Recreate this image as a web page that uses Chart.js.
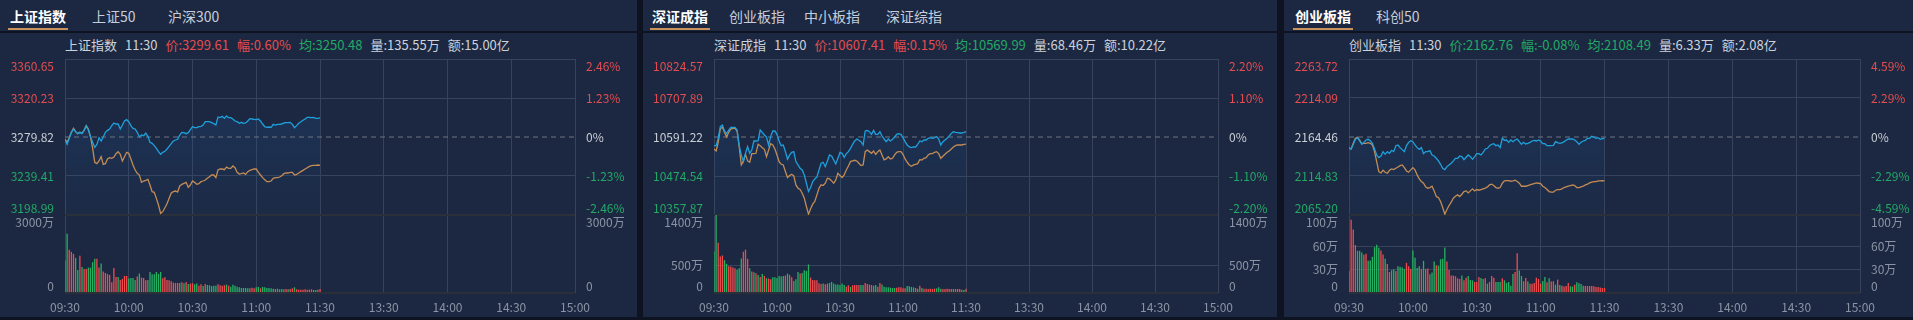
<!DOCTYPE html>
<html>
<head>
<meta charset="utf-8">
<script src="https://cdn.jsdelivr.net/npm/chart.js@4.4.1/dist/chart.umd.min.js"></script>
<style>
  html, body { margin: 0; padding: 0; width: 1913px; height: 320px; overflow: hidden; background: #0d1320; font-family: 'Noto Sans CJK SC', sans-serif; }
  .panel { position: absolute; top: 0; height: 317px; background: #1c2841; }
  .tab { position: absolute; top: 6px; font-size: 14px; line-height: 20px; color: #c7cedb; white-space: nowrap; }
  .tab.on { color: #fff; font-weight: bold; }
  .tab.on:after { content: ''; position: absolute; left: -2px; right: -2px; top: 22px; height: 2px; background: #c8925a; }
  .sep { position: absolute; left: 0; right: 0; top: 31px; height: 2px; background: #0d1320; }
  .info { position: absolute; top: 37px; font-size: 13px; line-height: 16px; color: #cdd2da; white-space: nowrap; }
  .info span { margin-right: 8px; }
  .up { color: #e34d4f; }
  .down { color: #22a867; }
  canvas { position: absolute; left: 0; top: 34px; }
</style>
</head>
<body>

<div class="panel" id="p1" style="left:0;width:637px">
  <div class="tab on" style="left:10px">上证指数</div>
  <div class="tab" style="left:92px">上证50</div>
  <div class="tab" style="left:168px">沪深300</div>
  <div class="sep"></div>
  <div class="info" style="left:65px"><span>上证指数</span><span>11:30</span><span class="up">价:3299.61</span><span class="up">幅:0.60%</span><span class="down">均:3250.48</span><span>量:135.55万</span><span>额:15.00亿</span></div>
  <canvas width="637" height="283"></canvas>
</div>

<div class="panel" id="p2" style="left:643px;width:634px">
  <div class="tab on" style="left:9px">深证成指</div>
  <div class="tab" style="left:86px">创业板指</div>
  <div class="tab" style="left:161px">中小板指</div>
  <div class="tab" style="left:243px">深证综指</div>
  <div class="sep"></div>
  <div class="info" style="left:71px"><span>深证成指</span><span>11:30</span><span class="up">价:10607.41</span><span class="up">幅:0.15%</span><span class="down">均:10569.99</span><span>量:68.46万</span><span>额:10.22亿</span></div>
  <canvas width="634" height="283"></canvas>
</div>

<div class="panel" id="p3" style="left:1284px;width:629px">
  <div class="tab on" style="left:11px">创业板指</div>
  <div class="tab" style="left:92px">科创50</div>
  <div class="sep"></div>
  <div class="info" style="left:65px"><span>创业板指</span><span>11:30</span><span class="down">价:2162.76</span><span class="down">幅:-0.08%</span><span class="down">均:2108.49</span><span>量:6.33万</span><span>额:2.08亿</span></div>
  <canvas width="629" height="283"></canvas>
</div>

<script>
// time axis
const timeLabels = ['09:30', '10:00', '10:30', '11:00', '11:30', '13:30', '14:00', '14:30', '15:00'];

// 上证指数
const shPriceTicks = [3198.99, 3239.41, 3279.82, 3320.23, 3360.65];
const shPctLabels = ['-2.46%', '-1.23%', '0%', '1.23%', '2.46%'];
const shVolTicks = [0, 3000];
const shVolLabels = ['0', '3000万'];
const shPrice = [
  3276.71, 3272.22, 3278.44, 3284.66, 3288.11, 3285.35, 3283.28, 3284.66, 3283.28, 3287.08,
  3291.22, 3287.08, 3280.17, 3274.29, 3269.11, 3272.22, 3279.13, 3275.67, 3279.82, 3284.66,
  3286.73, 3288.11, 3291.57, 3294.33, 3293.29, 3293.29, 3288.11, 3292.26, 3296.40, 3297.79,
  3295.71, 3291.57, 3288.80, 3288.11, 3284.66, 3279.82, 3281.89, 3281.20, 3283.97, 3280.51,
  3274.29, 3273.26, 3270.84, 3268.07, 3264.62, 3261.85, 3263.93, 3264.96, 3267.38, 3270.15,
  3272.91, 3275.67, 3276.71, 3277.40, 3281.89, 3284.66, 3284.31, 3283.28, 3284.31, 3287.42,
  3290.53, 3289.49, 3289.49, 3290.53, 3290.88, 3292.26, 3295.71, 3295.71, 3295.71, 3294.68,
  3293.64, 3292.26, 3300.55, 3299.86, 3301.24, 3299.17, 3301.59, 3299.86, 3299.86, 3298.48,
  3296.40, 3295.71, 3293.99, 3295.02, 3293.99, 3294.33, 3296.40, 3298.82, 3298.48, 3298.13,
  3297.79, 3298.48, 3296.40, 3293.29, 3290.53, 3289.84, 3290.19, 3289.84, 3292.95, 3292.26,
  3292.95, 3292.95, 3293.29, 3294.33, 3294.68, 3294.68, 3295.02, 3292.95, 3289.49, 3291.57,
  3293.99, 3295.71, 3297.10, 3298.48, 3300.20, 3300.20, 3299.86, 3300.20, 3299.17, 3299.17,
  3299.61
];
const shAvg = [
  3277.75, 3274.29, 3279.13, 3284.66, 3288.80, 3285.35, 3283.28, 3284.66, 3283.97, 3286.73,
  3291.57, 3288.11, 3280.17, 3268.07, 3253.56, 3252.18, 3254.94, 3259.44, 3251.49, 3252.18,
  3257.02, 3258.40, 3257.71, 3259.09, 3262.54, 3264.62, 3261.85, 3254.94, 3259.44, 3263.93,
  3262.89, 3257.02, 3250.80, 3245.62, 3242.16, 3240.43, 3232.83, 3234.21, 3234.90, 3235.94,
  3230.07, 3223.16, 3222.47, 3216.25, 3209.34, 3200.70, 3202.43, 3206.57, 3210.72, 3216.25,
  3221.78, 3223.16, 3223.85, 3222.81, 3229.03, 3230.76, 3231.80, 3232.83, 3227.65, 3230.07,
  3234.21, 3232.83, 3230.76, 3231.45, 3233.52, 3234.21, 3235.25, 3236.98, 3238.71, 3240.43,
  3240.43, 3237.67, 3245.62, 3246.65, 3246.65, 3245.96, 3248.72, 3247.34, 3247.34, 3249.76,
  3248.03, 3243.20, 3241.47, 3241.81, 3242.51, 3241.12, 3243.89, 3245.27, 3245.96, 3246.65,
  3246.65, 3243.20, 3240.43, 3237.67, 3235.60, 3233.52, 3233.52, 3234.21, 3236.98, 3237.67,
  3237.67, 3238.36, 3239.74, 3241.81, 3242.51, 3242.51, 3243.20, 3243.20, 3240.43, 3241.12,
  3242.51, 3243.89, 3245.27, 3246.65, 3248.03, 3249.42, 3250.11, 3250.45, 3250.45, 3250.80,
  3250.48
];
const shVol = [
  1249, 2279, 1661, 1584, 1506, 1352, 888, 1429, 1004, 927,
  927, 976, 976, 1185, 1313, 1313, 976, 1133, 824, 773,
  734, 695, 412, 966, 618, 618, 502, 541, 657, 657,
  554, 579, 579, 502, 631, 747, 592, 579, 489, 502,
  811, 721, 721, 811, 734, 811, 567, 605, 502, 489,
  451, 399, 386, 386, 386, 412, 373, 425, 348, 361,
  373, 335, 361, 283, 335, 270, 348, 309, 296, 270,
  283, 283, 335, 296, 283, 296, 322, 283, 245, 322,
  283, 245, 219, 193, 193, 193, 180, 180, 206, 180,
  219, 232, 180, 232, 219, 193, 193, 180, 167, 155,
  167, 142, 155, 142, 155, 142, 155, 180, 219, 142,
  129, 129, 129, 142, 129, 129, 142, 116, 116, 129, 155
];
const shVolSide = 'ggrrrggrgr' + 'rggggrrgrr' + 'rrrrrgrrrr' + 'ggggrgrrrg' + 'ggggggrrrr' +
  'rrrrgrgrgr' + 'rggrrgrggg' + 'ggrrrrgrgg' + 'gggggggrrr' + 'ggrggggggr' + 'gggrrgrrgr' + 'rrrrrrrggrr';

// 深证成指
const szPriceTicks = [10357.87, 10474.54, 10591.22, 10707.89, 10824.57];
const szPctLabels = ['-2.20%', '-1.10%', '0%', '1.10%', '2.20%'];
const szVolTicks = [0, 500, 1400];
const szVolLabels = ['0', '500万', '1400万'];
const szPrice = [
  10565.35, 10565.35, 10587.24, 10622.07, 10627.04, 10609.13, 10601.17, 10612.12, 10620.08, 10620.08,
  10620.08, 10612.12, 10565.35, 10537.49, 10517.59, 10542.46, 10562.36, 10542.46, 10552.41, 10579.28,
  10579.28, 10580.27, 10612.12, 10605.15, 10597.19, 10591.22, 10567.34, 10593.21, 10609.13, 10609.13,
  10599.18, 10579.28, 10565.35, 10567.34, 10547.44, 10524.55, 10537.49, 10545.45, 10547.44, 10517.59,
  10507.64, 10497.69, 10492.71, 10477.79, 10452.91, 10428.04, 10439.98, 10457.89, 10465.85, 10471.82,
  10492.71, 10512.61, 10515.60, 10502.66, 10519.58, 10537.49, 10534.50, 10522.56, 10510.62, 10527.54,
  10545.45, 10542.46, 10530.52, 10541.47, 10547.44, 10557.39, 10569.33, 10579.28, 10585.25, 10581.27,
  10577.29, 10567.34, 10609.13, 10611.12, 10607.14, 10599.18, 10611.12, 10599.18, 10599.18, 10607.14,
  10594.21, 10585.25, 10577.29, 10585.25, 10579.28, 10584.25, 10591.22, 10599.18, 10601.17, 10599.18,
  10589.23, 10577.29, 10567.34, 10561.37, 10559.38, 10561.37, 10561.37, 10569.33, 10579.28, 10577.29,
  10582.26, 10582.26, 10587.24, 10589.23, 10587.24, 10589.23, 10592.22, 10585.25, 10567.34, 10577.29,
  10582.26, 10587.24, 10594.21, 10602.17, 10607.14, 10605.15, 10604.16, 10603.16, 10603.16, 10605.15,
  10607.41
];
const szAvg = [
  10555.40, 10549.43, 10575.30, 10615.10, 10621.07, 10605.15, 10591.22, 10605.15, 10615.10, 10617.09,
  10617.09, 10609.13, 10562.36, 10507.64, 10519.58, 10539.48, 10519.58, 10515.60, 10541.47, 10541.47,
  10542.46, 10569.33, 10565.35, 10559.38, 10554.40, 10532.51, 10552.41, 10571.32, 10567.34, 10555.40,
  10537.49, 10517.59, 10509.63, 10507.64, 10487.74, 10469.83, 10475.80, 10479.78, 10474.80, 10447.94,
  10437.99, 10434.01, 10423.06, 10408.14, 10383.26, 10360.38, 10376.30, 10390.23, 10398.19, 10418.09,
  10437.99, 10447.94, 10445.95, 10452.91, 10467.84, 10465.85, 10459.88, 10452.91, 10462.86, 10482.76,
  10475.80, 10469.83, 10477.79, 10492.71, 10504.65, 10517.59, 10519.58, 10521.57, 10519.58, 10512.61,
  10505.65, 10507.64, 10547.44, 10552.41, 10547.44, 10542.46, 10549.43, 10539.48, 10547.44, 10552.41,
  10537.49, 10522.56, 10525.55, 10532.51, 10525.55, 10527.54, 10537.49, 10545.45, 10547.44, 10547.44,
  10539.48, 10525.55, 10515.60, 10507.64, 10503.66, 10507.64, 10509.63, 10511.62, 10523.56, 10522.56,
  10527.54, 10529.53, 10537.49, 10541.47, 10541.47, 10545.45, 10547.44, 10541.47, 10527.54, 10533.51,
  10539.48, 10545.45, 10549.43, 10555.40, 10561.37, 10565.35, 10567.34, 10567.34, 10567.34, 10569.33,
  10569.99
];
const szVol = [
  746, 1403, 903, 656, 674, 590, 524, 482, 476, 458,
  445, 421, 445, 620, 740, 777, 614, 445, 385, 373,
  355, 325, 289, 343, 307, 265, 259, 247, 283, 283,
  271, 307, 295, 307, 313, 349, 325, 283, 217, 247,
  379, 349, 361, 409, 397, 512, 277, 235, 229, 229,
  175, 163, 169, 157, 169, 181, 199, 169, 151, 151,
  144, 169, 144, 114, 138, 108, 138, 144, 144, 144,
  144, 144, 181, 163, 151, 144, 132, 144, 114, 181,
  151, 114, 102, 102, 96, 90, 90, 96, 102, 102,
  84, 84, 126, 120, 108, 102, 90, 78, 132, 90,
  78, 78, 72, 78, 72, 78, 84, 102, 78, 72,
  72, 78, 72, 72, 72, 72, 72, 72, 60, 54, 78
];
const szVolSide = 'ggrrrggrrr' + 'rgggrrrgrg' + 'rgrgrgrrgg' + 'ggggrgrrgg' + 'grggggrrrr' +
  'rrgrrggggg' + 'gggrrgrrrr' + 'ggrrrrggrr' + 'gggggggrrr' + 'rrggggrgrg' + 'rrrrrrgggr' + 'rrrrgrrrggr';

// 创业板指
const cyPriceTicks = [2065.20, 2114.83, 2164.46, 2214.09, 2263.72];
const cyPctLabels = ['-4.59%', '-2.29%', '0%', '2.29%', '4.59%'];
const cyVolTicks = [0, 30, 60, 100];
const cyVolLabels = ['0', '30万', '60万', '100万'];
const cyPrice = [
  2150.91, 2149.22, 2155.15, 2161.50, 2163.61, 2159.38, 2155.15, 2157.69, 2160.65, 2161.50,
  2159.80, 2156.42, 2149.22, 2141.60, 2138.22, 2140.33, 2145.83, 2142.45, 2145.83, 2143.72,
  2147.53, 2145.83, 2153.45, 2154.30, 2150.91, 2148.37, 2145.83, 2153.45, 2157.69, 2159.80,
  2158.53, 2154.30, 2150.91, 2148.80, 2150.91, 2143.29, 2145.83, 2145.83, 2147.10, 2141.60,
  2140.33, 2137.37, 2133.98, 2129.75, 2124.67, 2122.98, 2126.79, 2128.90, 2131.02, 2133.98,
  2137.37, 2137.37, 2140.33, 2139.49, 2135.68, 2138.64, 2141.60, 2139.49, 2136.10, 2139.49,
  2143.29, 2143.29, 2141.60, 2144.99, 2149.22, 2150.07, 2153.45, 2155.15, 2155.99, 2153.45,
  2154.30, 2150.91, 2162.77, 2160.23, 2160.65, 2157.69, 2160.65, 2158.53, 2160.65, 2161.92,
  2158.53, 2155.15, 2157.69, 2155.57, 2156.42, 2157.69, 2159.38, 2160.23, 2159.38, 2160.65,
  2159.38, 2155.99, 2155.99, 2153.45, 2153.45, 2153.45, 2153.88, 2158.53, 2157.26, 2156.42,
  2156.84, 2158.53, 2160.23, 2161.92, 2161.92, 2161.92, 2160.65, 2158.53, 2155.15, 2157.69,
  2159.38, 2160.23, 2162.77, 2162.77, 2165.31, 2164.46, 2162.77, 2163.61, 2161.50, 2162.34,
  2162.76
];
const cyAvg = [
  2150.07, 2149.22, 2156.42, 2162.77, 2164.04, 2160.65, 2155.99, 2156.42, 2156.42, 2157.26,
  2156.42, 2154.30, 2145.83, 2133.14, 2120.44, 2118.74, 2122.13, 2119.59, 2118.32, 2122.13,
  2123.82, 2122.98, 2124.67, 2126.36, 2128.06, 2128.90, 2125.52, 2121.28, 2119.59, 2122.55,
  2125.52, 2122.55, 2116.20, 2111.12, 2107.74, 2105.62, 2100.96, 2099.27, 2100.12, 2101.81,
  2095.89, 2088.69, 2087.42, 2082.34, 2074.72, 2066.25, 2072.18, 2077.26, 2081.49, 2086.57,
  2089.11, 2090.81, 2088.69, 2091.65, 2095.04, 2095.89, 2093.35, 2095.89, 2098.43, 2095.89,
  2097.58, 2096.73, 2097.58, 2098.43, 2099.27, 2100.96, 2103.50, 2104.35, 2102.66, 2100.12,
  2099.27, 2100.12, 2105.62, 2108.58, 2109.01, 2109.01, 2108.16, 2108.58, 2109.43, 2107.74,
  2105.62, 2101.81, 2101.81, 2101.81, 2102.66, 2103.50, 2104.35, 2105.20, 2106.04, 2105.62,
  2105.20, 2101.81, 2100.12, 2097.58, 2095.04, 2094.19, 2094.19, 2096.73, 2097.58, 2097.58,
  2098.43, 2100.12, 2100.96, 2101.81, 2102.66, 2103.50, 2102.66, 2100.12, 2100.12, 2100.96,
  2101.81, 2103.50, 2104.35, 2106.04, 2106.89, 2107.74, 2107.74, 2108.58, 2108.58, 2109.01,
  2108.49
];
const cyVol = [
  28.3, 94.0, 81.5, 61.4, 54.1, 54.1, 51.9, 48.9, 50.2, 41.2,
  41.6, 46.4, 58.8, 61.8, 57.9, 54.5, 49.4, 43.8, 37.3, 27.0,
  29.2, 30.5, 28.3, 34.3, 33.5, 32.6, 30.9, 38.6, 34.3, 30.9,
  54.5, 45.1, 32.2, 34.3, 30.9, 41.2, 30.9, 31.3, 24.0, 26.2,
  40.3, 35.6, 35.2, 43.3, 43.8, 58.4, 40.3, 29.6, 22.3, 22.3,
  21.5, 18.9, 18.0, 22.3, 16.3, 19.7, 21.9, 16.7, 16.3, 14.2,
  14.2, 20.6, 19.3, 18.0, 18.9, 12.0, 14.2, 21.9, 19.7, 14.2,
  14.2, 14.2, 18.9, 16.3, 12.9, 14.2, 9.4, 24.5, 27.0, 51.1,
  28.8, 21.9, 15.0, 19.3, 14.6, 12.0, 12.0, 12.9, 19.7, 18.0,
  12.0, 15.5, 20.6, 13.7, 18.9, 14.6, 15.0, 10.7, 17.2, 10.3,
  9.4, 8.2, 9.0, 12.9, 8.6, 8.2, 10.7, 13.7, 12.4, 11.6,
  9.4, 9.0, 9.0, 9.0, 9.0, 8.6, 7.7, 7.7, 6.9, 6.4, 6.4
];
const cyVolSide = 'grrrgggrrg' + 'gggggrrgrr' + 'ggrggggrrr' + 'ggggrgrrgg' + 'grggggrrrr' +
  'rrrgrrgggr' + 'rrggrgrrrg' + 'ggrgggggrr' + 'ggrrgrrrrr' + 'rggrgrrgrg' + 'rrrrggrggg' + 'grrrrrrrrrr';

const FONT = "'Noto Sans CJK SC', sans-serif";
const BG_GRID = '#37435b';
const DIVIDER = '#2b2f38';
const UP = '#e34d4f';
const DOWN = '#22a867';
const FLAT = '#c9ced6';
const AXIS_GREY = '#8b94a5';

Chart.defaults.font.family = FONT;

// left / right axis labels: top label hangs below its line, bottom label sits above it
function axisLabelPlugin(cfg) {
  return {
    id: 'axisLabels',
    afterDraw(chart) {
      const ctx = chart.ctx;
      const area = chart.chartArea;
      ctx.save();
      ctx.font = '12px ' + FONT;
      cfg.groups.forEach(g => {
        const s = chart.scales[g.axis];
        g.ticks.forEach((v, i) => {
          let y = s.getPixelForValue(v);
          let base = 'middle';
          if (v === s.max) { base = 'top'; y += 1; }
          else if (v === s.min) { base = 'bottom'; y -= 1; }
          ctx.textBaseline = base;
          ctx.fillStyle = g.colors[i];
          ctx.textAlign = 'right';
          ctx.fillText(g.left[i], area.left - 11, y);
          ctx.textAlign = 'left';
          ctx.fillText(g.right[i], area.right + 11, y);
        });
      });
      ctx.restore();
    }
  };
}

function buildPanel(id, p) {
  const canvas = document.querySelector('#' + id + ' canvas');
  const pre = p.priceTicks[2];
  const volMax = p.volTicks[p.volTicks.length - 1];
  const pts = arr => arr.map((v, i) => ({ x: i, y: v }));
  const priceColors = p.priceTicks.map(v => v > pre ? UP : (v < pre ? DOWN : FLAT));

  new Chart(canvas, {
    type: 'line',
    data: {
      datasets: [
        {
          data: pts(p.price), yAxisID: 'yp', order: 1,
          borderColor: '#1ea0dc', borderWidth: 1.3, pointRadius: 0, tension: 0,
          fill: 'start',
          backgroundColor: c => {
            const s = c.chart.scales.yp;
            if (!s || s.top === undefined) return 'rgba(35,85,150,0.25)';
            const g = c.chart.ctx.createLinearGradient(0, s.top, 0, s.bottom);
            g.addColorStop(0, 'rgba(35,85,150,0.32)');
            g.addColorStop(1, 'rgba(35,85,150,0.06)');
            return g;
          }
        },
        {
          data: pts(p.avg), yAxisID: 'yp', order: 2,
          borderColor: '#c38c55', borderWidth: 1.3, pointRadius: 0, tension: 0, fill: false
        },
        {
          data: [{ x: 0, y: pre }, { x: 240, y: pre }], yAxisID: 'yp', order: 3,
          borderColor: '#6f7583', borderWidth: 1, borderDash: [5, 4], pointRadius: 0, fill: false
        },
        {
          type: 'bar', data: pts(p.vol), yAxisID: 'yv', order: 4,
          backgroundColor: p.side.split('').map(c => c === 'r' ? '#ef4b4d' : '#26b062'),
          barPercentage: 0.62, categoryPercentage: 1
        }
      ]
    },
    options: {
      responsive: false,
      animation: false,
      events: [],
      layout: { padding: { left: p.chartLeft, right: p.width - p.chartRight, top: 25, bottom: 0 } },
      plugins: {
        legend: { display: false },
        tooltip: { enabled: false },
        filler: { drawTime: 'beforeDatasetsDraw' }
      },
      scales: {
        x: {
          type: 'linear', min: 0, max: 240, offset: false,
          grid: { color: BG_GRID, drawTicks: false, offset: false },
          border: { display: false },
          ticks: {
            stepSize: 30, autoSkip: false, maxRotation: 0, padding: 7,
            color: AXIS_GREY, font: { size: 12 },
            callback: v => timeLabels[v / 30]
          },
          afterFit: s => { s.height = 24; }
        },
        yv: {
          type: 'linear', position: 'left', stack: 'main', stackWeight: 1,
          min: 0, max: volMax,
          afterBuildTicks: s => { s.ticks = p.volTicks.map(v => ({ value: v })); },
          ticks: { display: false },
          grid: {
            drawTicks: false,
            color: c => c.tick.value === 0 ? DIVIDER : (c.tick.value === volMax ? 'rgba(0,0,0,0)' : BG_GRID),
            lineWidth: c => c.tick.value === 0 ? 2 : 1
          },
          border: { display: false },
          afterFit: s => { s.width = 0; }
        },
        yp: {
          type: 'linear', position: 'left', stack: 'main', stackWeight: 2,
          min: p.priceTicks[0], max: p.priceTicks[4],
          afterBuildTicks: s => { s.ticks = p.priceTicks.map(v => ({ value: v })); },
          ticks: { display: false },
          grid: {
            drawTicks: false,
            color: c => c.tick.value === p.priceTicks[0] ? DIVIDER : (c.tick.value === pre ? 'rgba(0,0,0,0)' : BG_GRID),
            lineWidth: c => c.tick.value === p.priceTicks[0] ? 2 : 1
          },
          border: { display: false },
          afterFit: s => { s.width = 0; }
        }
      }
    },
    plugins: [axisLabelPlugin({
      groups: [
        { axis: 'yp', ticks: p.priceTicks, left: p.priceTicks.map(v => v.toFixed(2)), right: p.pctLabels, colors: priceColors },
        { axis: 'yv', ticks: p.volTicks, left: p.volLabels, right: p.volLabels, colors: p.volTicks.map(() => AXIS_GREY) }
      ]
    })]
  });
}

buildPanel('p1', {
  width: 637, chartLeft: 65, chartRight: 575,
  priceTicks: shPriceTicks, pctLabels: shPctLabels, volTicks: shVolTicks, volLabels: shVolLabels,
  price: shPrice, avg: shAvg, vol: shVol, side: shVolSide
});
buildPanel('p2', {
  width: 634, chartLeft: 71, chartRight: 575,
  priceTicks: szPriceTicks, pctLabels: szPctLabels, volTicks: szVolTicks, volLabels: szVolLabels,
  price: szPrice, avg: szAvg, vol: szVol, side: szVolSide
});
buildPanel('p3', {
  width: 629, chartLeft: 65, chartRight: 576,
  priceTicks: cyPriceTicks, pctLabels: cyPctLabels, volTicks: cyVolTicks, volLabels: cyVolLabels,
  price: cyPrice, avg: cyAvg, vol: cyVol, side: cyVolSide
});
</script>
</body>
</html>
